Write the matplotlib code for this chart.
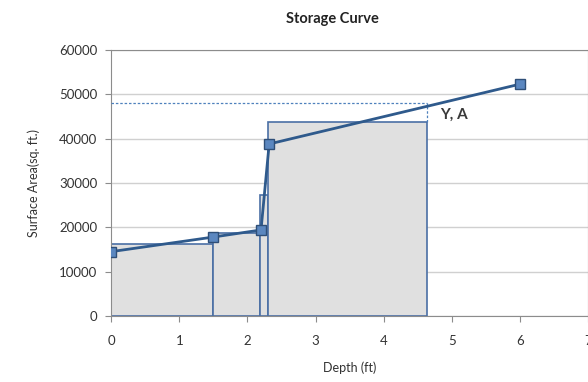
import matplotlib.pyplot as plt

plt.rcParams['font.family'] = ['Lato', 'DejaVu Sans']

# storage curve points (depth ft, surface area sq ft)
depth = [0, 1.5, 2.2, 2.32, 6]
area = [14500, 17800, 19400, 38800, 52300]

# stage bars (left edge, width, height)
bar_left = [0, 1.5, 2.18, 2.31]
bar_width = [1.5, 0.68, 0.13, 2.33]
bar_height = [16200, 18600, 27300, 43800]

# marked point
y_depth = 4.64
y_area = 48000

fig = plt.figure(figsize=(5.88, 3.82), dpi=100)
ax = fig.add_axes([0.189, 0.173, 0.811, 0.696])

ax.bar(bar_left, bar_height, width=bar_width, align='edge',
       color='#e0e0e0', edgecolor='#4a6fa5', linewidth=1.2, zorder=2)
ax.plot(depth, area, color='#2f5a8c', linewidth=2, marker='s', markersize=7,
        markerfacecolor='#5b87c0', markeredgecolor='#2f4f78', zorder=4)

ax.plot([0, y_depth], [y_area, y_area], color='#4f81bd', linestyle=(0, (2, 1.5)),
        linewidth=0.9, zorder=3)
ax.plot([y_depth, y_depth], [bar_height[-1], y_area], color='#4f81bd',
        linestyle=(0, (2, 1.5)), linewidth=0.9, zorder=3)
ax.text(4.83, 44500, 'Y, A', fontsize=11, fontweight='bold', color='#3a3a3a')

ax.set_xlim(0, 7)
ax.set_ylim(0, 60000)
ax.set_xticks(range(0, 8))
ax.set_yticks(range(0, 60001, 10000))
ax.grid(axis='y', color='#d0d0d0', linewidth=1, zorder=0)
ax.set_axisbelow(True)
for s in ax.spines.values():
    s.set_color('#8c8c8c')
ax.tick_params(axis='both', labelsize=9.5, colors='#8c8c8c', labelcolor='#333333',
               length=4)
ax.tick_params(axis='x', pad=10)
ax.tick_params(axis='y', pad=6)
ax.set_xlabel('Depth (ft)', fontsize=9, color='#333333', labelpad=10)
ax.set_ylabel('Surface Area(sq. ft.)', fontsize=9, color='#333333', labelpad=14)
fig.text(0.566, 0.94, 'Storage Curve', fontsize=10.5, fontweight='bold',
         color='#222222', ha='center')

fig.savefig('out.png', dpi=100)
